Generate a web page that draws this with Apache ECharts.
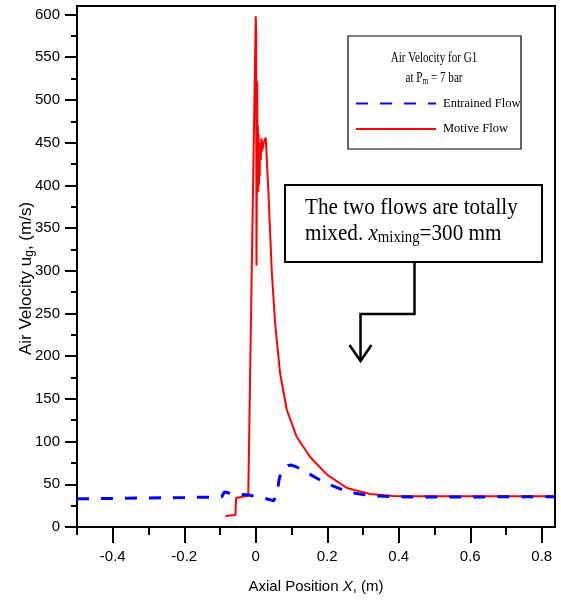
<!DOCTYPE html>
<html>
<head>
<meta charset="utf-8">
<script src="https://cdn.jsdelivr.net/npm/echarts@6/dist/echarts.min.js"></script>
<style>html,body{margin:0;padding:0;background:#fff}#c{width:561px;height:605px}</style>
</head>
<body>
<div id="c"></div>
<script>
// ---- data ----
const entrainedX = [-0.5, -0.4, -0.3, -0.2, -0.12, -0.095, -0.088, -0.08, -0.07, -0.06, -0.04, -0.02, 0, 0.02, 0.04, 0.05, 0.055, 0.06, 0.065, 0.07, 0.08, 0.09, 0.1, 0.11, 0.13, 0.15, 0.18, 0.21, 0.24, 0.27, 0.3, 0.33, 0.36, 0.4, 0.45, 0.5, 0.6, 0.7, 0.837];
const entrainedV = [33, 33.5, 34, 34.5, 35, 35.5, 41, 40.5, 38.5, 38.5, 38, 37.5, 35.5, 34, 32, 30.5, 31, 40, 55, 63, 69, 72, 72.5, 71, 67, 62, 55, 49, 44, 40, 38, 36.5, 36, 35.5, 35, 35, 35, 35.5, 35.5];

const motiveX = [-0.085, -0.057, -0.055, -0.05, -0.03, -0.021, -0.012, 0.0, 0.001, 0.002, 0.004, 0.005, 0.006, 0.007, 0.008, 0.009, 0.010, 0.011, 0.012, 0.014, 0.016, 0.018, 0.022, 0.028, 0.035, 0.045, 0.054, 0.068, 0.087, 0.114, 0.152, 0.2, 0.255, 0.32, 0.385, 0.45, 0.55, 0.7, 0.837];
const motiveV = [13, 14, 34, 35, 36, 36.5, 280, 598, 580, 306, 522, 395, 470, 392, 460, 400, 450, 410, 445, 430, 455, 440, 450, 456, 395, 298, 239, 180, 137, 106, 82, 61, 45.7, 38.7, 36.3, 36, 36, 36, 36];

const xMajorTicks = [-0.4, -0.2, 0, 0.2, 0.4, 0.6, 0.8];
const xMinorTicks = [-0.5, -0.3, -0.1, 0.1, 0.3, 0.5, 0.7];
const yMajorTicks = [0, 50, 100, 150, 200, 250, 300, 350, 400, 450, 500, 550, 600];
const yMinorTicks = [25, 75, 125, 175, 225, 275, 325, 375, 425, 475, 525, 575];

const seriesNames = ['Entrained Flow', 'Motive Flow'];

// ---- chart ----
const chart = echarts.init(document.getElementById('c'), null, {renderer: 'canvas'});
const pair = (xs, vs) => xs.map((x, i) => [x, vs[i]]);
const sans = 'Liberation Sans, Arial, sans-serif';
const serif = 'Liberation Serif, Times New Roman, serif';

const xBase = {
  type: 'value', min: -0.5, max: 0.837, gridIndex: 0, position: 'bottom',
  splitLine: {show: false}
};
const yBase = {
  type: 'value', min: 0, max: 610, gridIndex: 0, position: 'left',
  splitLine: {show: false}
};

chart.setOption({
  animation: false,
  backgroundColor: '#fff',
  grid: {left: 77, right: 6, top: 6, bottom: 78, show: true, borderColor: '#000', borderWidth: 2,
    containLabel: false, outerBoundsMode: 'none'},
  legend: {
    data: seriesNames,
    orient: 'vertical', left: 355, top: 97, padding: 0,
    itemWidth: 80, itemHeight: 14, itemGap: 12.5,
    itemStyle: {opacity: 0},
    textStyle: {fontFamily: serif, fontSize: 12.5, color: '#000', padding: [0, 0, 0, 2]}
  },
  xAxis: [
    Object.assign({}, xBase, {
      name: 'Axial Position {i|X}, (m)', nameLocation: 'middle', nameGap: 52, nameMoveOverlap: false,
      nameTextStyle: {fontFamily: sans, fontSize: 15, color: '#000',
        rich: {i: {fontFamily: sans, fontSize: 15, fontStyle: 'italic', color: '#000'}}},
      axisLine: {onZero: false, lineStyle: {color: '#000', width: 2}},
      axisTick: {show: true, inside: false, length: 16, lineStyle: {color: '#000', width: 2}, customValues: xMajorTicks},
      axisLabel: {customValues: xMajorTicks, margin: 22, fontFamily: sans, fontSize: 15, color: '#000',
        formatter: v => (Math.abs(v) < 1e-9 ? '0' : v.toFixed(1))}
    }),
    Object.assign({}, xBase, {
      axisLine: {show: false, onZero: false},
      axisTick: {show: true, inside: false, length: 8, lineStyle: {color: '#000', width: 2}, customValues: xMinorTicks},
      axisLabel: {show: false}
    })
  ],
  yAxis: [
    Object.assign({}, yBase, {
      name: 'Air Velocity u{s|g}, (m/s)', nameLocation: 'middle', nameGap: 41, nameRotate: 90, nameMoveOverlap: false,
      nameTextStyle: {fontFamily: sans, fontSize: 17, color: '#000', padding: [0, 24, 0, 0],
        rich: {s: {fontFamily: sans, fontSize: 12, color: '#000', padding: [8, 0, 0, 0]}}},
      axisLine: {onZero: false, lineStyle: {color: '#000', width: 2}},
      axisTick: {show: true, inside: false, length: 12, lineStyle: {color: '#000', width: 2}, customValues: yMajorTicks},
      axisLabel: {customValues: yMajorTicks, margin: 17, fontFamily: sans, fontSize: 15, color: '#000'}
    }),
    Object.assign({}, yBase, {
      axisLine: {show: false, onZero: false},
      axisTick: {show: true, inside: false, length: 6, lineStyle: {color: '#000', width: 2}, customValues: yMinorTicks},
      axisLabel: {show: false}
    })
  ],
  series: [
    {
      name: seriesNames[1], type: 'line', xAxisIndex: 0, yAxisIndex: 0,
      data: pair(motiveX, motiveV), symbol: 'none', smooth: false,
      lineStyle: {color: '#ff0000', width: 2},
      itemStyle: {color: '#ff0000'}
    },
    {
      name: seriesNames[0], type: 'line', xAxisIndex: 0, yAxisIndex: 0,
      data: pair(entrainedX, entrainedV), symbol: 'none', smooth: false,
      lineStyle: {color: '#0000ff', width: 3, type: [12, 12]},
      itemStyle: {color: '#0000ff'}
    }
  ],
  graphic: [
    // legend frame + title
    {type: 'rect', shape: {x: 348, y: 36, width: 173, height: 113}, style: {fill: 'none', stroke: '#000', lineWidth: 1.2}, z: 10},
    {type: 'text', x: 434, y: 58, scaleX: 0.74, style: {text: 'Air Velocity for G1', font: '15px ' + serif, fill: '#000', align: 'center', verticalAlign: 'middle'}, z: 11},
    {type: 'text', x: 434, y: 78, scaleX: 0.74, style: {
      text: 'at P{s|m} = 7 bar', font: '15px ' + serif, fill: '#000', align: 'center', verticalAlign: 'middle',
      rich: {s: {fontFamily: serif, fontSize: 10, fill: '#000', padding: [7, 0, 0, 0]}}}, z: 11},
    // annotation box
    {type: 'rect', shape: {x: 285, y: 185, width: 257, height: 77}, style: {fill: '#fff', stroke: '#000', lineWidth: 2}, z: 10},
    {type: 'text', x: 305, y: 208, scaleX: 0.92, style: {text: 'The two flows are totally', font: '23px ' + serif, fill: '#000', align: 'left', verticalAlign: 'middle'}, z: 11},
    {type: 'text', x: 305, y: 234, scaleX: 0.92, style: {
      text: 'mixed. {i|x}{s|mixing}=300 mm', font: '23px ' + serif, fill: '#000', align: 'left', verticalAlign: 'middle',
      rich: {i: {fontFamily: serif, fontSize: 23, fontStyle: 'italic', fill: '#000'},
             s: {fontFamily: serif, fontSize: 16, fill: '#000', padding: [8, 0, 0, 0]}}}, z: 11},
    // arrow
    {type: 'polyline', shape: {points: [[414.5, 262], [414.5, 314], [360.5, 314], [360.5, 361]]}, style: {stroke: '#000', lineWidth: 2.5, fill: 'none'}, z: 10},
    {type: 'polyline', shape: {points: [[349.5, 345], [360.5, 361], [371.5, 345]]}, style: {stroke: '#000', lineWidth: 2.5, fill: 'none'}, z: 10}
  ]
});
</script>
</body>
</html>
